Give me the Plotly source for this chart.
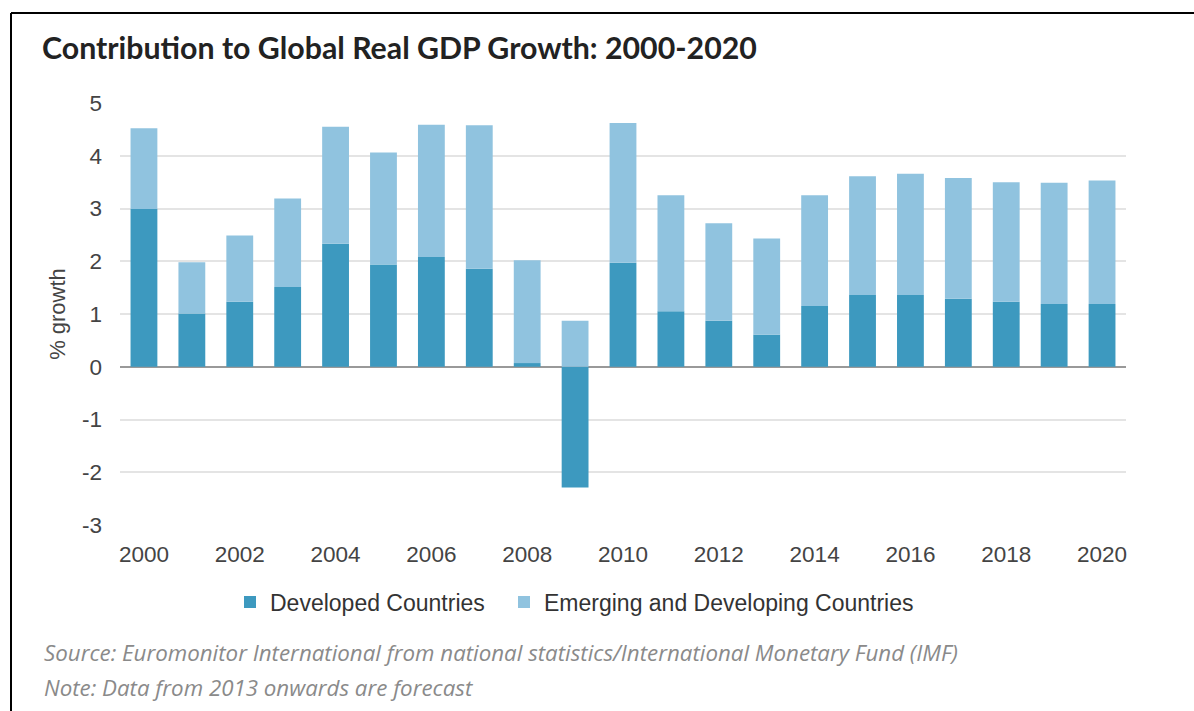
import plotly.graph_objects as go

# Contribution to global real GDP growth, percentage points
years = list(range(2000, 2021))
developed = [2.99, 1.01, 1.23, 1.51, 2.33, 1.94, 2.08, 1.86, 0.07, -2.29, 1.97,
             1.05, 0.87, 0.61, 1.15, 1.36, 1.36, 1.29, 1.23, 1.19, 1.19]
emerging = [1.53, 0.97, 1.26, 1.68, 2.22, 2.12, 2.51, 2.72, 1.95, 0.87, 2.65,
            2.20, 1.85, 1.82, 2.10, 2.25, 2.30, 2.29, 2.27, 2.30, 2.34]
y_ticks = [-3, -2, -1, 0, 1, 2, 3, 4, 5]
y_labels = ["-3", "-2", "-1", "0", "1", "2", "3", "4", "5"]
x_ticks = list(range(2000, 2021, 2))

DEV_COLOR = "#3d99bf"
EMG_COLOR = "#90c3df"
TEXT = "#444444"

W, H = 1194, 711
L, R, T, B = 120, 68, 103, 186
pw, ph = W - L - R, H - T - B


def px(x):
    return (x - L) / pw


def py(y):
    return (H - B - y) / ph


fig = go.Figure()
fig.add_trace(go.Bar(x=years, y=developed, name="Developed Countries",
                     marker=dict(color=DEV_COLOR, line=dict(width=0)),
                     legend="legend"))
fig.add_trace(go.Bar(x=years, y=emerging, name="Emerging and Developing Countries",
                     marker=dict(color=EMG_COLOR, line=dict(width=0)),
                     legend="legend2"))

legend_style = dict(orientation="h", y=py(602), yanchor="middle", xanchor="left",
                    font=dict(size=23, color="#333333"), itemwidth=30,
                    bgcolor="rgba(0,0,0,0)")

fig.update_layout(
    width=W, height=H,
    margin=dict(l=L, r=R, t=T, b=B),
    paper_bgcolor="white", plot_bgcolor="white",
    barmode="relative", bargap=0.44,
    font=dict(family="Liberation Sans, Arial, sans-serif", size=22, color=TEXT),
    title=dict(text="<b>Contribution to Global Real GDP Growth: 2000-2020</b>",
               x=42 / W, xanchor="left", xref="container",
               y=1 - 48 / H, yanchor="middle", yref="container",
               font=dict(family="Lato, sans-serif", size=30.3, color="#222222")),
    showlegend=True,
    legend=dict(x=px(230), **legend_style),
    legend2=dict(x=px(504), **legend_style),
)

fig.update_xaxes(range=[1999.5, 2020.5], tickmode="array", tickvals=x_ticks,
                 ticktext=[str(v) for v in x_ticks], showgrid=False, zeroline=False,
                 showline=False, ticks="", ticklabelstandoff=13,
                 tickfont=dict(size=22.5, color=TEXT))
fig.update_yaxes(range=[-3, 5], tickmode="array", tickvals=y_ticks, ticktext=y_labels,
                 showgrid=True, gridcolor="#e4e4e4", gridwidth=2,
                 zeroline=True, zerolinecolor="#999999", zerolinewidth=2,
                 showline=False, ticks="", ticklabelstandoff=17,
                 tickfont=dict(size=22.5, color=TEXT),
                 title=dict(text="% growth", standoff=10,
                            font=dict(size=22, color=TEXT)))

# Frame lines along the top and left edges
fig.add_shape(type="line", xref="paper", yref="paper",
              x0=px(11), x1=px(W + 5), y0=py(13), y1=py(13),
              line=dict(color="black", width=2))
fig.add_shape(type="line", xref="paper", yref="paper",
              x0=px(11), x1=px(11), y0=py(13), y1=py(H + 5),
              line=dict(color="black", width=2))

# Source and note lines
notes = [
    ("Source: Euromonitor International from national statistics/International Monetary Fund (IMF)", 652),
    ("Note: Data from 2013 onwards are forecast", 687),
]
for text, ypix in notes:
    fig.add_annotation(text=f"<i>{text}</i>", xref="paper", yref="paper",
                       x=px(42), y=py(ypix), xanchor="left", yanchor="middle",
                       showarrow=False,
                       font=dict(family="Open Sans, sans-serif", size=22.3, color="#8a8a8a"))

fig.write_html("out.html")
